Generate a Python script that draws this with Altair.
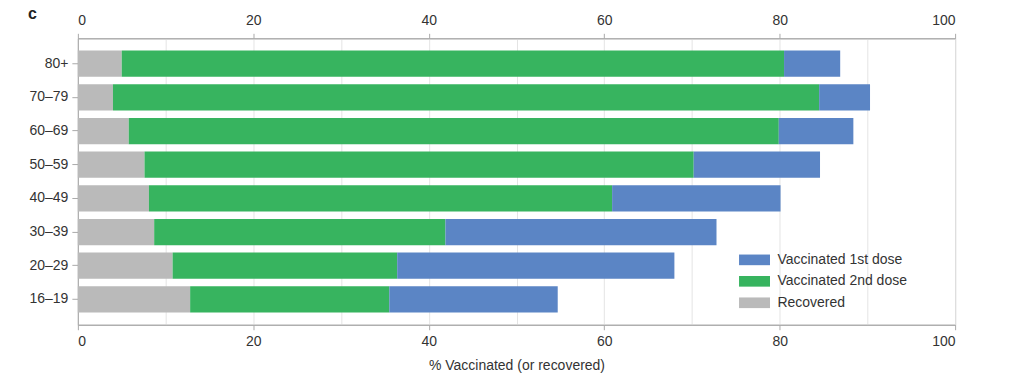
import altair as alt
import pandas as pd

ages = ["80+", "70–79", "60–69", "50–59", "40–49", "30–39", "20–29", "16–19"]
recovered = [5.0, 4.0, 5.8, 7.6, 8.1, 8.7, 10.8, 12.8]
dose2 = [75.5, 80.5, 74.1, 62.6, 52.8, 33.2, 25.6, 22.7]
dose1 = [6.4, 5.8, 8.5, 14.4, 19.2, 30.9, 31.6, 19.2]
series = ["Vaccinated 1st dose", "Vaccinated 2nd dose", "Recovered"]
colors = ["#5b85c5", "#37b45f", "#bababa"]
x_ticks = list(range(0, 101, 10))

rows = []
for i, a in enumerate(ages):
    for s, v, o in ((series[2], recovered[i], 0), (series[1], dose2[i], 1), (series[0], dose1[i], 2)):
        rows.append({"age": a, "series": s, "value": v, "ord": o})
df = pd.DataFrame(rows)

xscale = alt.Scale(domain=[0, 100], nice=False)
yscale = alt.Scale(paddingInner=0.22, paddingOuter=0.365)
tick_op = {"condition": {"test": "datum.value % 20 === 0", "value": 1}, "value": 0}
lab_expr = "datum.value % 20 === 0 ? datum.label : ''"

bars = alt.Chart(df).mark_bar().encode(
    x=alt.X("value:Q", stack="zero", scale=xscale,
            axis=alt.Axis(orient="bottom", values=x_ticks, labelExpr=lab_expr,
                          tickOpacity=tick_op, title="% Vaccinated (or recovered)",
                          titlePadding=10, labelPadding=5, tickSize=5, grid=True)),
    y=alt.Y("age:N", sort=ages, scale=yscale,
            axis=alt.Axis(title=None, tickSize=6, labelPadding=4, grid=False)),
    color=alt.Color("series:N", scale=alt.Scale(domain=series, range=colors),
                    legend=alt.Legend(title=None, orient="none", legendX=671, legendY=215,
                                      symbolType="M-2.82,-0.97H2.82V0.97H-2.82Z", symbolSize=121,
                                      symbolStrokeWidth=0, labelFontSize=14, labelColor="#333",
                                      labelOffset=16, rowPadding=7.5, padding=0)),
    order=alt.Order("ord:Q"),
)

top = alt.Chart(df).mark_bar(opacity=0).encode(
    x=alt.X("value:Q", stack="zero", scale=xscale,
            axis=alt.Axis(orient="top", values=x_ticks, labelExpr=lab_expr,
                          tickOpacity=tick_op, title=None, labelPadding=6, tickSize=5, grid=False)),
    y=alt.Y("age:N", sort=ages, scale=yscale, axis=None),
    order=alt.Order("ord:Q"),
)

chart = alt.layer(bars, top).resolve_axis(x="independent", y="independent").properties(
    width=879, height=287,
    autosize=alt.AutoSizeParams(type="none"),
    padding={"left": 70, "top": 30, "right": 60, "bottom": 50},
    title=alt.TitleParams(text="c", anchor="start", frame="group", fontSize=16,
                          fontWeight="bold", color="#222", dx=-50, offset=0, dy=9),
).configure(font="Liberation Sans").configure_axis(
    labelFontSize=14, labelColor="#333", titleFontSize=14, titleFontWeight="normal",
    titleColor="#333", domainColor="#aaa", tickColor="#aaa", gridColor="#e4e4e4",
).configure_view(stroke="#aaa")

chart.save("out.html", embed_options={"renderer": "svg", "actions": False})
